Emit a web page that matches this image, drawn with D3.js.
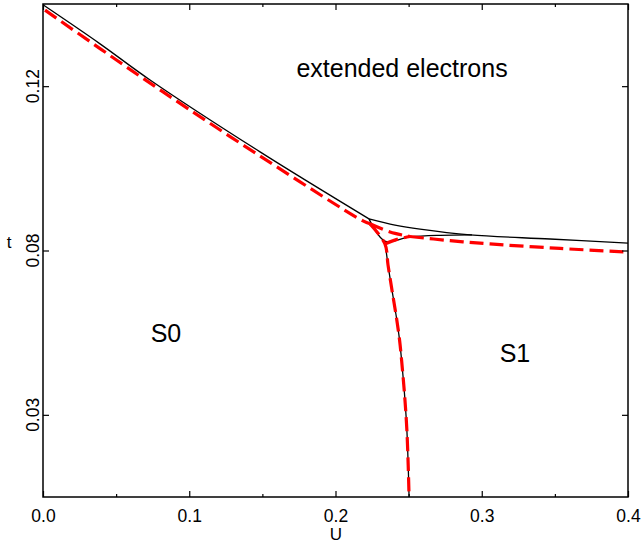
<!DOCTYPE html>
<html>
<head>
<meta charset="utf-8">
<script src="https://cdn.jsdelivr.net/npm/d3@7"></script>
<style>
  body { margin: 0; background: #fff; }
  svg { display: block; font-family: "Liberation Sans", Arial, sans-serif; }
</style>
</head>
<body>
<svg id="chart" width="641" height="546"></svg>
<script>
// phase boundaries, [U, t]
const blackMain = [[0, 0.1398], [0.039, 0.1303], [0.0732, 0.1215], [0.1484, 0.1040], [0.2229, 0.0877]];
const blackUpper = [[0.2229, 0.0877], [0.2407, 0.0862], [0.2578, 0.0852], [0.2920, 0.0838], [0.3467, 0.0828], [0.4, 0.0818]];
const blackInner = [[0.2229, 0.0877], [0.2338, 0.0823], [0.2509, 0.0833], [0.2715, 0.0837], [0.2933, 0.0838]];
const blackVert = [[0.2338, 0.0823], [0.2359, 0.0765], [0.2386, 0.0704], [0.2414, 0.0643], [0.2438, 0.0582],
  [0.2458, 0.0509], [0.2475, 0.0436], [0.2488, 0.0363], [0.2497, 0.0278], [0.2503, 0.0200]];

const redMain = [[0.0014, 0.1385], [0.0400, 0.1289], [0.0821, 0.1186], [0.1484, 0.1030], [0.2188, 0.0872], [0.2236, 0.0865]];
const redVert = [[0.2236, 0.0865], [0.2338, 0.0816], [0.2359, 0.0765], [0.2386, 0.0704], [0.2414, 0.0643],
  [0.2438, 0.0582], [0.2458, 0.0509], [0.2475, 0.0436], [0.2488, 0.0363], [0.2497, 0.0278], [0.2503, 0.0200]];
const redUpper = [[0.2236, 0.0865], [0.2373, 0.0845], [0.2509, 0.0834]];
const redLower = [[0.2338, 0.0816], [0.2421, 0.0827], [0.2509, 0.0834]];
const redRight = [[0.2509, 0.0834], [0.2783, 0.0824], [0.3056, 0.0816], [0.3535, 0.0805], [0.4, 0.0796]];

const xTicks = [0, 0.1, 0.2, 0.3, 0.4];
const xTickLabels = ["0.0", "0.1", "0.2", "0.3", "0.4"];
const xMinor = [0.05, 0.15, 0.25, 0.35];
const yTicks = [0.12, 0.08, 0.04];
const yTickLabels = ["0.12", "0.08", "0.03"];

const labels = [
  { text: "extended electrons", u: 0.2455, t: 0.1222 },
  { text: "S0", u: 0.0841, t: 0.0577 },
  { text: "S1", u: 0.3227, t: 0.0529 }
];

const mLeft = 43, mRight = 628, mTop = 4, mBottom = 497;
const svg = d3.select("#chart");

const x = d3.scaleLinear().domain([0, 0.4]).range([mLeft, mRight]);
const y = d3.scaleLinear().domain([0.02, 0.14]).range([mBottom, mTop]);

const line = d3.line().x(d => x(d[0])).y(d => y(d[1])).curve(d3.curveCatmullRom);

svg.append("clipPath").attr("id", "clip")
  .append("rect").attr("x", mLeft).attr("y", mTop).attr("width", mRight - mLeft).attr("height", mBottom - mTop);

const plot = svg.append("g").attr("clip-path", "url(#clip)");

[blackMain, blackUpper, blackInner, blackVert].forEach(d => {
  plot.append("path").attr("d", line(d))
    .attr("fill", "none").attr("stroke", "#000").attr("stroke-width", 1.3);
});

[redMain, redVert, redUpper, redLower, redRight].forEach(d => {
  plot.append("path").attr("d", line(d))
    .attr("fill", "none").attr("stroke", "#ff0000").attr("stroke-width", 3.2)
    .attr("stroke-dasharray", "14,6");
});

// frame
svg.append("rect").attr("x", mLeft).attr("y", mTop).attr("width", mRight - mLeft).attr("height", mBottom - mTop)
  .attr("fill", "none").attr("stroke", "#000").attr("stroke-width", 1.5);

// axes with inward ticks, mirrored on top and right
const xAxisB = d3.axisBottom(x).tickValues(xTicks).tickSize(-6).tickFormat((d, i) => xTickLabels[i]).tickPadding(13);
const gB = svg.append("g").attr("transform", `translate(0,${mBottom})`).call(xAxisB);
gB.select(".domain").remove();
gB.selectAll("text").attr("font-size", 17.5).attr("fill", "#000").attr("font-family", "Liberation Sans, Arial, sans-serif");

const minorB = svg.append("g").attr("transform", `translate(0,${mBottom})`)
  .call(d3.axisBottom(x).tickValues(xMinor).tickSize(-3).tickFormat(""));
minorB.select(".domain").remove();

const gT = svg.append("g").attr("transform", `translate(0,${mTop})`)
  .call(d3.axisTop(x).tickValues(xTicks).tickSize(-6).tickFormat(""));
gT.select(".domain").remove();
const minorT = svg.append("g").attr("transform", `translate(0,${mTop})`)
  .call(d3.axisTop(x).tickValues(xMinor).tickSize(-3).tickFormat(""));
minorT.select(".domain").remove();

const gL = svg.append("g").attr("transform", `translate(${mLeft},0)`)
  .call(d3.axisLeft(y).tickValues(yTicks).tickSize(-6).tickFormat(""));
gL.select(".domain").remove();
const gR = svg.append("g").attr("transform", `translate(${mRight},0)`)
  .call(d3.axisRight(y).tickValues(yTicks).tickSize(-6).tickFormat(""));
gR.select(".domain").remove();

svg.selectAll(".tick line").attr("stroke", "#000").attr("stroke-width", 1.2);

// rotated y tick labels
svg.append("g").selectAll("text").data(yTicks).join("text")
  .attr("transform", d => `translate(39,${y(d)}) rotate(-90)`)
  .attr("text-anchor", "middle")
  .attr("font-size", 17.5)
  .text((d, i) => yTickLabels[i]);

// axis titles
svg.append("text").attr("x", 336).attr("y", 540).attr("text-anchor", "middle").attr("font-size", 17).text("U");
svg.append("text").attr("x", 9).attr("y", 248).attr("text-anchor", "middle").attr("font-size", 17).text("t");

// region labels
svg.append("g").selectAll("text").data(labels).join("text")
  .attr("x", d => x(d.u)).attr("y", d => y(d.t))
  .attr("text-anchor", "middle")
  .attr("font-size", 25)
  .text(d => d.text);
</script>
</body>
</html>
